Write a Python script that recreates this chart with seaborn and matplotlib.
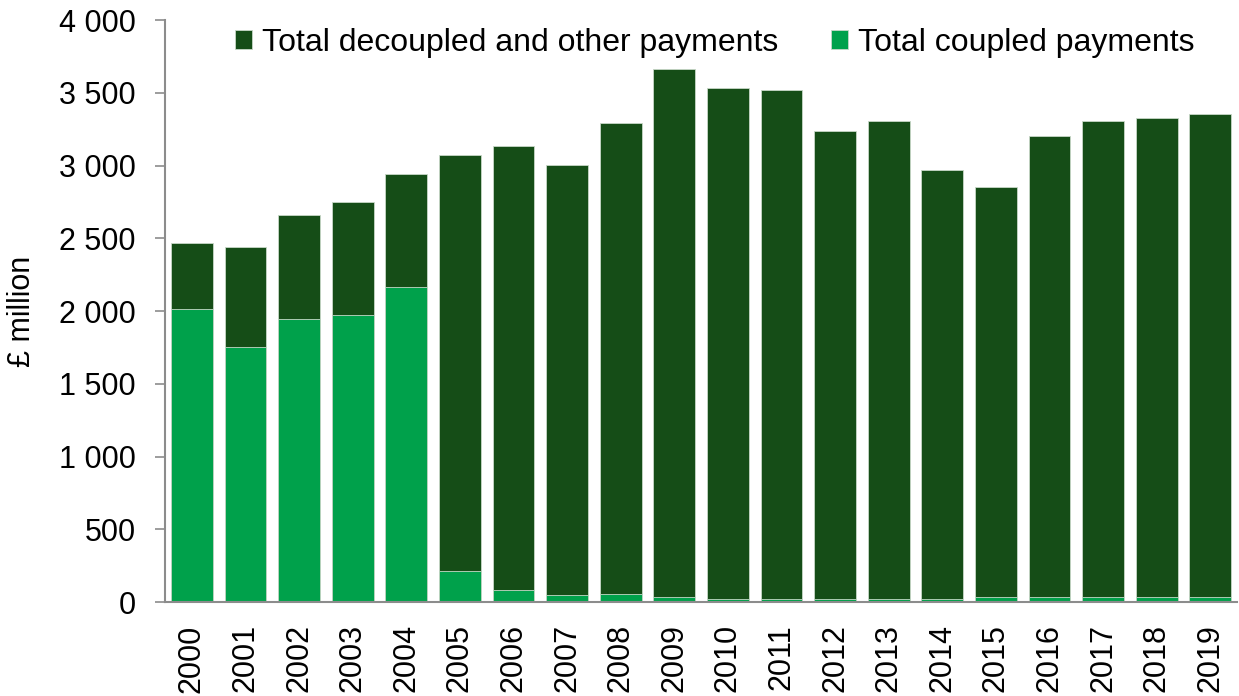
import matplotlib
matplotlib.use("Agg")
import matplotlib.pyplot as plt
import matplotlib.ticker as mticker
import numpy as np
import pandas as pd
import seaborn as sns

# values (GBP million)
years = [str(y) for y in range(2000, 2020)]
coupled = [2016, 1755, 1948, 1975, 2168, 215, 83, 50, 53, 34,
           20, 20, 20, 20, 20, 34, 34, 34, 34, 34]
decoupled = [454, 688, 715, 778, 778, 2861, 3053, 2953, 3241, 3630,
             3511, 3497, 3217, 3290, 2953, 2820, 3173, 3276, 3292, 3322]
yticks = [0, 500, 1000, 1500, 2000, 2500, 3000, 3500, 4000]

dark_green = "#154d17"
light_green = "#00a14b"
axis_grey = "#8c8c8c"

df = pd.DataFrame({"year": years, "coupled": coupled, "decoupled": decoupled})
df["total"] = df["coupled"] + df["decoupled"]

sns.set_style("white")
plt.rcParams["font.family"] = ["Liberation Sans", "DejaVu Sans"]
plt.rcParams["text.color"] = "black"
plt.rcParams["xtick.color"] = "black"
plt.rcParams["ytick.color"] = "black"
plt.rcParams["axes.labelcolor"] = "black"

fig = plt.figure(figsize=(12.39, 6.96), dpi=100)
ax = fig.add_axes([0.1332, 0.135, 0.8652, 0.836])

# stacked bars: total (dark) underneath, coupled (light) drawn over its lower part
sns.barplot(data=df, x="year", y="total", color=dark_green, saturation=1,
            width=0.78, edgecolor="#c8d8c8", linewidth=0.6, ax=ax,
            label="Total decoupled and other payments")
sns.barplot(data=df, x="year", y="coupled", color=light_green, saturation=1,
            width=0.78, edgecolor="#c8d8c8", linewidth=0.6, ax=ax,
            label="Total coupled payments")

ax.set_xlim(-0.5, len(years) - 0.5)
ax.set_ylim(0, 4000)
ax.set_yticks(yticks)
ax.yaxis.set_major_formatter(mticker.FuncFormatter(lambda v, p: f"{int(v):,}".replace(",", " ")))

ax.set_xlabel("")
ax.set_ylabel("£ million", fontsize=22, labelpad=16)

# tick marks sit between categories
ax.set_xticks(np.arange(len(years)))
ax.set_xticklabels(years, rotation=90)
ax.set_xticks(np.arange(-0.5, len(years)), minor=True)
ax.tick_params(axis="x", which="major", length=0, labelsize=22, pad=16)
ax.tick_params(axis="x", which="minor", length=8, width=1.2, color=axis_grey, direction="out")
ax.tick_params(axis="y", length=7, width=1.2, color=axis_grey, labelsize=22, pad=14, left=True)

for s in ["top", "right"]:
    ax.spines[s].set_visible(False)
for s in ["left", "bottom"]:
    ax.spines[s].set_color(axis_grey)
    ax.spines[s].set_linewidth(1.5)

ax.legend(loc="center", bbox_to_anchor=(0.5126, 0.961), ncol=2, frameon=False,
          fontsize=23, handlelength=0.55, handleheight=0.55, handletextpad=0.3,
          columnspacing=1.65, borderpad=0, borderaxespad=0)

fig.savefig("out.png", dpi=100)
